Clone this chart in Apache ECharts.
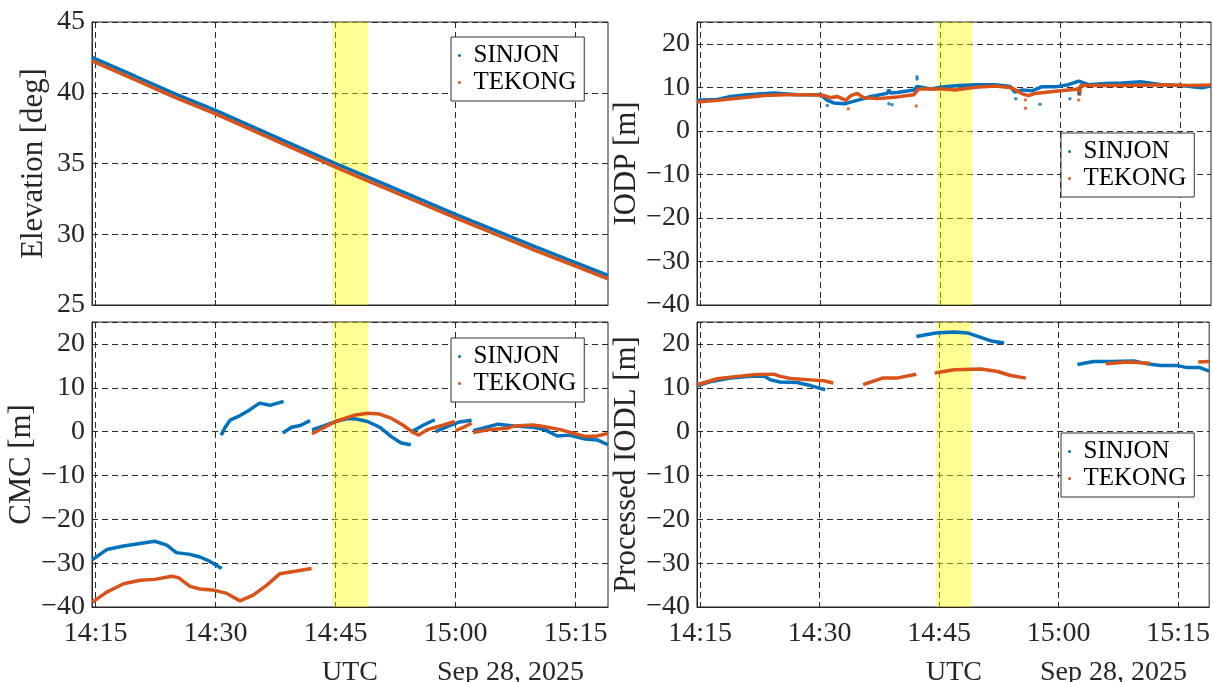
<!DOCTYPE html>
<html>
<head>
<meta charset="utf-8">
<script src="https://cdn.jsdelivr.net/npm/echarts@6/dist/echarts.min.js"></script>
<style>html,body{margin:0;padding:0;background:#fff}#c{width:1213px;height:682px}</style>
</head>
<body>
<div id="c"></div>
<script>
// ---- time ticks (minutes after 14:00) ----
const xTickValues = [15, 30, 45, 60, 75];
const xTickLabels = ['14:15', '14:30', '14:45', '15:00', '15:15'];
const bandStart = 44.65, bandEnd = 49.05;

// ---- Elevation [deg] ----
const elevT       = [14.55, 20, 25, 30, 35, 40, 45, 50, 55, 60, 65, 70, 75, 79.05];
const elevSinjon  = [42.5, 41.15, 39.9, 38.75, 37.5, 36.25, 35.0, 33.8, 32.6, 31.4, 30.25, 29.1, 28.0, 27.1];
const elevTekong  = [42.25, 40.9, 39.65, 38.5, 37.25, 36.0, 34.75, 33.55, 32.35, 31.15, 30.0, 28.85, 27.75, 26.85];

// ---- IODP [m] : [minute after 14:00, value], null = gap ----
const iodpSinjon = [[14.61,7.0],[17.16,7.2],[18.83,7.9],[20.9,8.3],[24.24,8.7],[27.17,8.3],[30.1,8.3],[30.91,7.0],[31.72,6.4],[33.04,6.2],[34.65,7.0],[36.37,7.9],[38.4,8.6],[38.6,9.4],[38.8,8.7],[39.66,8.8],[41.73,9.4],[42.14,10.2],[43.86,9.6],[45.47,10.15],[47.4,10.4],[49.42,10.6],[51.95,10.6],[53.77,10.2],[54.37,8.9],[55.28,9.4],[56.5,9.2],[57.71,10.1],[59.43,10.1],[61.05,10.6],[62.36,11.4],[63.58,10.6],[65.7,10.9],[67.82,11.0],[70.25,11.25],[72.78,10.6],[75.21,10.4],[77.73,9.9],[78.9,10.3]];
const iodpTekong = [[14.61,6.6],[17.16,7.0],[19.69,7.5],[23.03,8.1],[25.5,8.3],[28.89,8.3],[30.51,8.1],[31.32,7.6],[32.13,7.9],[33.24,7.0],[33.85,8.1],[34.65,8.6],[35.46,7.6],[37.18,7.4],[39.66,7.8],[41.73,8.3],[42.34,9.6],[43.86,9.6],[45.47,9.6],[46.89,9.4],[49.42,10.0],[51.95,10.3],[53.97,9.9],[55.28,8.5],[56.09,8.1],[56.9,8.6],[59.43,9.1],[62.36,9.6],[62.46,8.1],[62.56,10.4],[64.38,10.4],[67.82,10.4],[70.25,10.5],[72.78,10.6],[76.12,10.4],[78.9,10.55]];
const iodpSinjonOut = [[30.91,5.8],[38.6,6.2],[39.0,6.0],[42.14,12.4],[42.14,11.9],[54.48,7.4],[57.51,6.1],[61.25,7.4],[62.36,8.6]];
const iodpTekongOut = [[33.54,5.1],[42.04,5.7],[55.69,7.1],[55.69,5.2],[62.36,7.1]];

// ---- CMC [m] ----
const cmcSinjon = [[14.6,-29.2],[16.4,-26.9],[18.5,-26.1],[20.55,-25.5],[22.4,-25.0],[23.9,-25.9],[25.1,-27.6],[26.8,-28.0],[28.05,-28.6],[29.3,-29.6],[30.76,-31.2], null,
  [30.7,-0.8],[31.2,1.0],[31.8,2.6],[33.0,3.6],[34.2,4.9],[35.5,6.5],[36.8,6.0],[38.5,6.9], null,
  [38.4,-0.3],[39.5,1.0],[40.6,1.4],[41.8,2.5], null,
  [42.05,0.4],[43.5,1.3],[45.0,2.3],[46.5,3.0],[47.5,2.9],[49.0,2.3],[50.5,1.0],[52.0,-1.2],[53.2,-2.6],[54.4,-3.0], null,
  [54.6,0.1],[56.0,1.5],[57.4,2.7], null,
  [57.5,0.0],[59.0,1.2],[60.5,2.2],[62.0,2.6], null,
  [62.2,0.2],[65.3,1.7],[67.3,1.3],[69.7,1.0],[71.2,0.4],[72.7,-1.0],[74.2,-0.8],[76.2,-1.7],[77.7,-1.9],[79.05,-3.0]];
const cmcTekong = [[14.6,-38.9],[16.4,-36.6],[18.5,-34.7],[20.55,-33.9],[22.4,-33.7],[24.5,-33.0],[25.35,-33.3],[26.8,-35.3],[28.05,-35.9],[29.9,-36.2],[31.4,-36.9],[33.05,-38.6],[34.7,-37.3],[36.4,-35.0],[38.05,-32.4],[40.1,-31.8],[42.0,-31.2], null,
  [42.05,-0.5],[45.0,2.3],[47.5,3.8],[49.0,4.2],[50.5,4.0],[52.0,3.0],[53.4,1.5],[54.7,-0.2],[55.4,-0.8],[56.4,0.4],[57.5,1.0],[58.5,1.5],[59.9,2.3], null,
  [60.0,0.2],[61.0,1.0],[62.0,1.9], null,
  [62.2,-0.2],[64.0,0.4],[66.5,0.75],[67.3,1.3],[69.7,1.5],[71.2,1.1],[73.2,0.4],[76.2,-1.1],[77.7,-1.0],[79.05,-0.4]];

// ---- Processed IODL [m] ----
const iodlSinjon = [[14.61,10.46],[16.35,11.4],[18.83,12.2],[21.31,12.6],[23.03,12.7],[23.83,11.8],[25.05,11.3],[27.17,11.2],[28.84,10.5],[30.71,9.55], null,
  [42.14,21.7],[44.57,22.5],[46.89,22.7],[48.56,22.5],[50.23,21.5],[51.7,20.6],[53.16,20.2], null,
  [62.36,15.3],[64.38,16.0],[66.51,16.0],[69.44,16.1],[71.06,15.5],[72.78,15.1],[74.8,15.1],[76.12,14.6],[77.73,14.6],[78.9,13.8]];
const iodlTekong = [[14.61,10.7],[17.16,12.06],[19.69,12.6],[22.12,13.0],[24.24,13.1],[25.05,12.6],[26.36,12.1],[28.84,11.8],[30.51,11.6],[31.72,11.1], null,
  [35.46,10.7],[37.89,12.2],[39.66,12.2],[42.14,13.1], null,
  [44.46,13.35],[46.89,14.1],[50.23,14.3],[52.35,13.7],[53.97,12.8],[55.89,12.2], null,
  [65.9,15.5],[68.63,15.9],[71.46,15.6], null,
  [77.53,15.9],[78.9,16.0]];

const blue = '#0072BD', orange = '#D95319';
const FONT = 'Liberation Serif';
const TXT = '#262626';

function gapped(arr) {
  const out = [];
  arr.forEach((p, i) => {
    if (p === null) out.push([arr[i - 1][0], null]);
    else out.push(p);
  });
  return out;
}

const grids = [
  {left: 92, top: 22, width: 516, height: 283},
  {left: 697, top: 22, width: 514, height: 283},
  {left: 92, top: 322, width: 516, height: 285},
  {left: 697, top: 322, width: 514, height: 285}
].map(g => Object.assign(g, {show: true, borderColor: TXT, borderWidth: 1, backgroundColor: '#fff'}));

const dash = {show: true, lineStyle: {color: '#2a2a2a', type: [6, 4], width: 1}};

function xAx(gi, min, max, labels) {
  return {
    type: 'value', gridIndex: gi, min: min, max: max,
    axisLine: {show: true, onZero: false, lineStyle: {color: TXT}},
    axisTick: {show: true, inside: true, length: 5, customValues: xTickValues, lineStyle: {color: TXT}},
    axisLabel: {show: labels, customValues: xTickValues, margin: 13, color: TXT, fontFamily: FONT, fontSize: 28,
      formatter: v => xTickLabels[xTickValues.indexOf(v)] || ''},
    splitLine: dash
  };
}
function yAx(gi, min, max, interval, name, gap) {
  return {
    type: 'value', gridIndex: gi, min: min, max: max, interval: interval,
    name: name, nameLocation: 'middle', nameGap: gap,
    nameTextStyle: {color: TXT, fontFamily: FONT, fontSize: 30.8},
    axisLine: {show: true, lineStyle: {color: TXT}},
    axisTick: {show: true, inside: true, length: 5, lineStyle: {color: TXT}},
    axisLabel: {color: TXT, fontFamily: FONT, fontSize: 28, margin: 7, showMaxLabel: max === 45,
      formatter: v => String(v).replace('-', '\u2212')},
    splitLine: dash
  };
}

function band(gi) {
  return {type: 'line', xAxisIndex: gi, yAxisIndex: gi, data: [], z: 1, silent: true,
    markArea: {silent: true, itemStyle: {color: 'rgba(255,255,0,0.42)'}, data: [[{xAxis: bandStart}, {xAxis: bandEnd}]]}};
}
function ln(gi, name, color, data, w) {
  return {type: 'line', name: name, xAxisIndex: gi, yAxisIndex: gi, data: data, z: 3,
    showSymbol: false, connectNulls: false, animation: false,
    lineStyle: {color: color, width: w || 3.5}, itemStyle: {color: color}};
}
function sc(gi, name, color, data) {
  return {type: 'scatter', name: name, xAxisIndex: gi, yAxisIndex: gi, data: data, z: 3,
    symbolSize: 3.5, itemStyle: {color: color}, animation: false};
}
function lg(left, top) {
  return {left: left, top: top, orient: 'vertical', data: ['SINJON', 'TEKONG'], icon: 'circle',
    itemWidth: 18, itemHeight: 3, itemGap: 2, padding: [6, 8, 6, 7],
    backgroundColor: '#fff', borderColor: '#333', borderWidth: 1, selectedMode: false,
    textStyle: {color: '#000', fontFamily: FONT, fontSize: 25}};
}

const option = {
  animation: false,
  backgroundColor: '#fff',
  grid: grids,
  xAxis: [xAx(0, 14.55, 79.05, false), xAx(1, 14.61, 78.9, false), xAx(2, 14.55, 79.05, true), xAx(3, 14.61, 78.9, true)],
  yAxis: [yAx(0, 25, 45, 5, 'Elevation [deg]', 43), yAx(1, -40, 25, 10, 'IODP [m]', 52),
          yAx(2, -40, 25, 10, 'CMC [m]', 53), yAx(3, -40, 25, 10, 'Processed IODL [m]', 53)],
  legend: [lg(451, 37), lg(1061, 133), lg(451, 338), lg(1061, 433)],
  series: [
    band(0), band(1), band(2), band(3),
    ln(0, 'SINJON', blue, elevT.map((t, i) => [t, elevSinjon[i]])),
    ln(0, 'TEKONG', orange, elevT.map((t, i) => [t, elevTekong[i]])),
    ln(1, 'SINJON', blue, gapped(iodpSinjon), 3.5),
    ln(1, 'TEKONG', orange, gapped(iodpTekong), 3.5),
    sc(1, 'SINJON', blue, iodpSinjonOut),
    sc(1, 'TEKONG', orange, iodpTekongOut),
    ln(2, 'SINJON', blue, gapped(cmcSinjon)),
    ln(2, 'TEKONG', orange, gapped(cmcTekong)),
    ln(3, 'SINJON', blue, gapped(iodlSinjon)),
    ln(3, 'TEKONG', orange, gapped(iodlTekong))
  ],
  graphic: [
    {type: 'text', left: 322, top: 659, style: {text: 'UTC', fill: TXT, font: '28px "Liberation Serif"'}},
    {type: 'text', left: 437, top: 659, style: {text: 'Sep 28, 2025', fill: TXT, font: '28px "Liberation Serif"'}},
    {type: 'text', left: 926, top: 659, style: {text: 'UTC', fill: TXT, font: '28px "Liberation Serif"'}},
    {type: 'text', left: 1040, top: 659, style: {text: 'Sep 28, 2025', fill: TXT, font: '28px "Liberation Serif"'}}
  ]
};
const chart = echarts.init(document.getElementById('c'), null, {renderer: 'canvas'});
chart.setOption(option);
</script>
</body>
</html>
